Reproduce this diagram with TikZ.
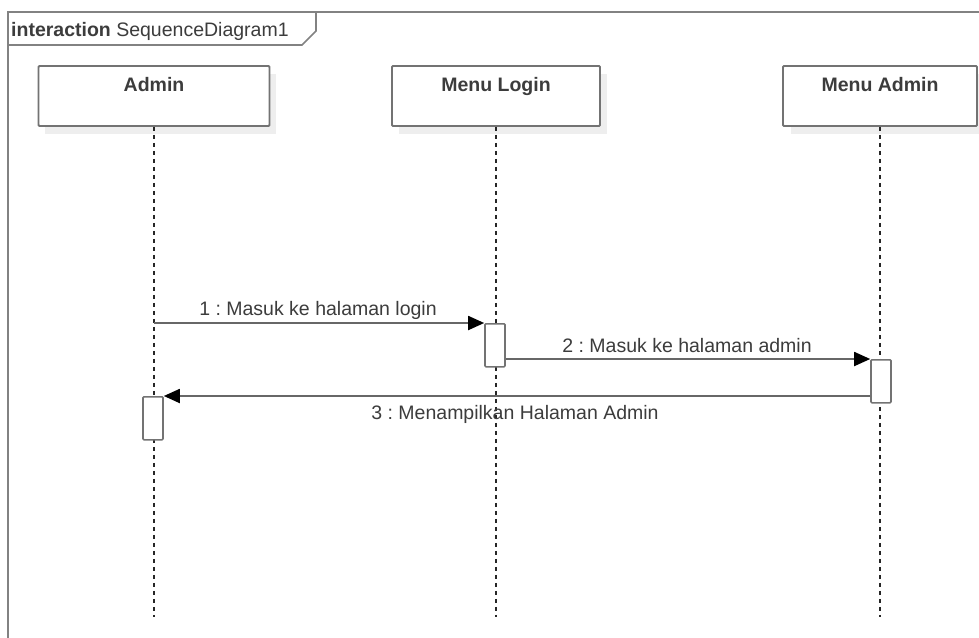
\documentclass[tikz,border=0pt]{standalone}
\usepackage{fontspec}
\setmainfont{Liberation Sans}
\usetikzlibrary{arrows.meta}
\frenchspacing
\definecolor{inkc}{RGB}{60,60,60}
\definecolor{edgec}{RGB}{115,115,115}
\definecolor{framec}{RGB}{130,130,130}
\definecolor{shadec}{RGB}{238,238,238}
\tikzset{
  headbox/.style={draw=edgec, line width=1.8pt, fill=white, rounded corners=1pt,
    minimum height=60pt, inner sep=0pt},
  headshade/.style={fill=shadec, draw=none},
  headtext/.style={font=\fontsize{19.5}{22}\selectfont\bfseries, text=inkc,
    anchor=base, inner sep=0pt},
  actbox/.style={draw=edgec, line width=1.6pt, fill=white, rounded corners=1pt,
    minimum width=20pt, minimum height=43pt, inner sep=0pt, anchor=north},
  lifeline/.style={draw=black!85, line width=1.2pt, dash pattern=on 4pt off 4pt},
  msg/.style={draw=edgec!90!black, line width=1.8pt,
    -{Triangle[length=16pt,width=14pt,color=black,fill=black]}},
  msglabel/.style={font=\fontsize{19.5}{22}\selectfont, text=inkc, inner sep=0pt},
}
\begin{document}
\begin{tikzpicture}[x=1pt,y=-1pt]
  \useasboundingbox (0,0) rectangle (979,637);
  \fill[white] (0,0) rectangle (979,637);
  \begin{scope}
    \clip (0,0) rectangle (979,637);
    % interaction frame and its title tab
    \draw[framec, line width=2pt] (8,660) -- (8,12) -- (1000,12);
    \draw[framec, line width=1.6pt] (8,45) -- (302,45) -- (316,31) -- (316,12);
    \node[anchor=base west, inner sep=0pt, text=inkc,
      font=\fontsize{19.5}{22}\selectfont] (title) at (11,36)
      {\textbf{interaction} SequenceDiagram1};

    % lifeline heads with soft shadows
    \fill[headshade] (45,74) rectangle (276,134);
    \fill[headshade] (399,74) rectangle (607,134);
    \fill[headshade] (791,74) rectangle (985,134);
    \node[headbox, minimum width=231pt] (hA)  at (154,96) {};
    \node[headbox, minimum width=208pt] (hML) at (496,96) {};
    \node[headbox, minimum width=194pt] (hMA) at (880,96) {};
    \node[headtext] (tA)  at (154,91) {Admin};
    \node[headtext] (tML) at (496,91) {Menu Login};
    \node[headtext] (tMA) at (880,91) {Menu Admin};

    % lifelines
    \coordinate (eA)  at (154,617);
    \coordinate (eML) at (496,617);
    \coordinate (eMA) at (880,617);
    \draw[lifeline] (hA.south)  -- (eA);
    \draw[lifeline] (hML.south) -- (eML);
    \draw[lifeline] (hMA.south) -- (eMA);

    % activation bars
    \node[actbox] (aML) at (495,323) {};
    \node[actbox] (aMA) at (881,359) {};
    \node[actbox] (aA)  at (153,396) {};

    % messages
    \draw[msg] (hA.south |- aML.north west) -- (aML.north west);
    \draw[msg] (aML.east |- aMA.north west) -- (aMA.north west);
    \draw[msg] (aMA.west |- aA.north east) -- (aA.north east);

    \node[msglabel] (l1) at (318,310) {1 : Masuk ke halaman login};
    \node[msglabel] (l2) at (687,346) {2 : Masuk ke halaman admin};
    \node[msglabel] (l3) at (515,414) {3 : Menampilkan Halaman Admin};
  \end{scope}
\end{tikzpicture}
\end{document}
